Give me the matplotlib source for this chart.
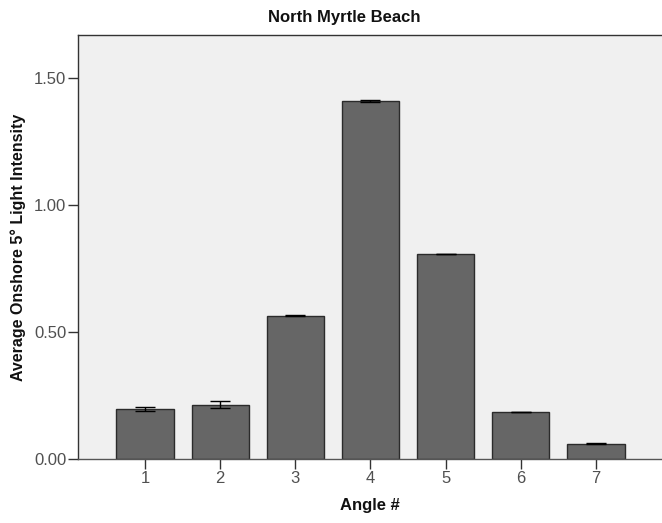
import matplotlib
matplotlib.use("Agg")
import matplotlib.pyplot as plt

plt.rcParams['font.family'] = ['Liberation Sans', 'DejaVu Sans']

angles = [1, 2, 3, 4, 5, 6, 7]
means = [0.197, 0.214, 0.563, 1.409, 0.807, 0.184, 0.059]
errors = [0.008, 0.013, 0.002, 0.003, 0.001, 0.001, 0.002]
yticks = [0.0, 0.5, 1.0, 1.5]
ytick_labels = ['0.00', '0.50', '1.00', '1.50']

fig = plt.figure(figsize=(6.62, 5.23), dpi=100)
ax = fig.add_axes([0.1178, 0.1224, 0.8822, 0.811])
ax.set_facecolor('#f0f0f0')

ax.bar(angles, means, width=0.76, color='#666666', edgecolor='#2b2b2b',
       linewidth=1.0, zorder=2)
ax.errorbar(angles, means, yerr=errors, fmt='none', ecolor='black',
            elinewidth=1.0, capsize=7, capthick=1.0, zorder=3)

ax.set_xlim(0.109, 7.878)
ax.set_ylim(0, 1.669)
ax.set_xticks(angles)
ax.set_xticklabels([str(a) for a in angles])
ax.set_yticks(yticks)
ax.set_yticklabels(ytick_labels)

for side in ['left', 'bottom', 'top']:
    ax.spines[side].set_color('#333333')
    ax.spines[side].set_linewidth(1.0)
ax.spines['right'].set_visible(False)
ax.spines['bottom'].set_color('#555555')

ax.tick_params(axis='both', direction='out', length=7, width=1.0,
               color='#333333', labelcolor='#505050', labelsize=12)
ax.tick_params(axis='x', pad=2)
ax.tick_params(axis='y', pad=1.5)

fig.text(0.52, 0.9656, 'North Myrtle Beach', fontsize=12, fontweight='bold',
         ha='center', va='center', color='#111111')
ax.set_xlabel('Angle #', fontsize=12, fontweight='bold', labelpad=8,
              color='#111111')
ax.set_ylabel('Average Onshore 5\u00b0 Light Intensity', fontsize=11.5,
              fontweight='bold', labelpad=6, color='#111111')

fig.savefig('out.png', dpi=100)
